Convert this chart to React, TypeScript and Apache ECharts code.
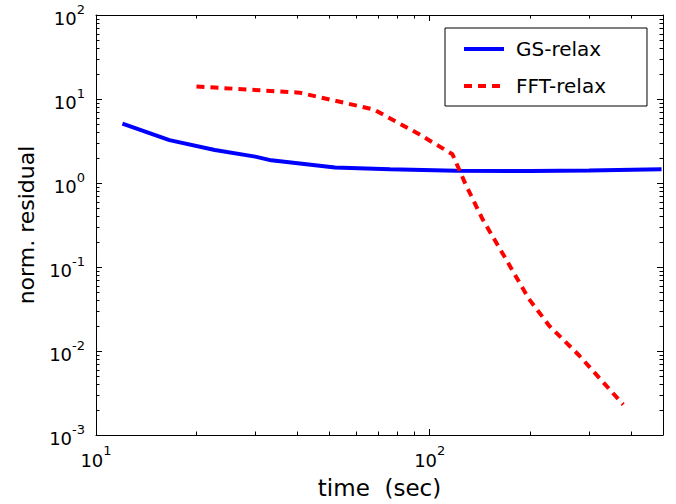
import React, { useEffect, useRef } from 'react';
import * as echarts from 'echarts';

const gsTime = [12, 16.6, 22.7, 30, 33.5, 52, 76, 120, 200, 300, 495];
const gsResidual = [5.1, 3.24, 2.47, 2.06, 1.86, 1.53, 1.46, 1.4, 1.39, 1.41, 1.46];
const fftTime = [20, 40.7, 68, 93, 117, 128, 144, 169, 198, 228, 280, 380];
const fftResidual = [14.1, 11.9, 7.5, 3.8, 2.2, 0.97, 0.37, 0.125, 0.042, 0.02, 0.0089, 0.0023];
const xMinorTicks = [20, 30, 40, 50, 60, 70, 80, 90, 200, 300, 400];
const yMinorTicks = [
  0.002, 0.003, 0.004, 0.005, 0.006, 0.007, 0.008, 0.009,
  0.02, 0.03, 0.04, 0.05, 0.06, 0.07, 0.08, 0.09,
  0.2, 0.3, 0.4, 0.5, 0.6, 0.7, 0.8, 0.9,
  2, 3, 4, 5, 6, 7, 8, 9,
  20, 30, 40, 50, 60, 70, 80, 90,
];

const FONT = 'DejaVu Sans';

const powLabel = (v: number) => {
  const e = Math.log10(v);
  const r = Math.round(e);
  if (Math.abs(e - r) > 1e-6) return '';
  return `{b|10}{s|${r}}`;
};

const richLabel = {
  b: { fontSize: 18, fontFamily: FONT, color: '#000', padding: [7, 0, 0, 0], verticalAlign: 'bottom' },
  s: { fontSize: 13, fontFamily: FONT, color: '#000', verticalAlign: 'top' },
};

export default function App() {
  const ref = useRef<HTMLDivElement>(null);
  useEffect(() => {
    document.body.style.margin = '0';
    const chart = echarts.init(ref.current!, null, { renderer: 'svg' });
    const axisLine = { show: true, lineStyle: { color: '#000', width: 1 } };
    const tick = { show: true, inside: true, length: 6, lineStyle: { color: '#000' } };
    const tickLine = (x1: number, y1: number, x2: number, y2: number) => ({
      type: 'line',
      shape: { x1, y1, x2, y2 },
      style: { stroke: '#000', lineWidth: 1 },
    });
    chart.setOption({
      animation: false,
      textStyle: { fontFamily: FONT },
      grid: { left: 96, top: 15, right: 13, bottom: 67 },
      legend: {
        data: ['GS-relax', 'FFT-relax'],
        orient: 'vertical',
        left: 445,
        top: 28,
        backgroundColor: '#fff',
        borderColor: '#000',
        borderWidth: 1,
        padding: [11, 41, 10, 17],
        itemWidth: 40,
        itemHeight: 14,
        itemGap: 17,
        itemStyle: { opacity: 0 },
        lineStyle: { width: 4 },
        textStyle: { fontSize: 20, fontFamily: FONT, color: '#000', padding: [0, 0, 0, 7] },
      },
      xAxis: [
        {
          type: 'log',
          logBase: 10,
          min: 10,
          max: 500,
          name: 'time\u00a0\u00a0(sec)',
          nameLocation: 'middle',
          nameGap: 41,
          nameTextStyle: { fontSize: 23, fontFamily: FONT, color: '#000' },
          axisLine,
          axisTick: tick,
          splitLine: { show: false },
          axisLabel: { formatter: powLabel, rich: richLabel, margin: 9, showMaxLabel: false },
        },
        {
          type: 'log',
          logBase: 10,
          min: 10,
          max: 500,
          position: 'top',
          axisLine,
          axisTick: tick,
          splitLine: { show: false },
          axisLabel: { show: false },
        },
      ],
      yAxis: [
        {
          type: 'log',
          logBase: 10,
          min: 0.001,
          max: 100,
          name: 'norm. residual',
          nameLocation: 'middle',
          nameGap: 59,
          nameTextStyle: { fontSize: 22, fontFamily: FONT, color: '#000' },
          axisLine,
          axisTick: tick,
          splitLine: { show: false },
          axisLabel: { formatter: powLabel, rich: richLabel, margin: 11 },
        },
        {
          type: 'log',
          logBase: 10,
          min: 0.001,
          max: 100,
          position: 'right',
          axisLine,
          axisTick: tick,
          splitLine: { show: false },
          axisLabel: { show: false },
        },
      ],
      series: [
        {
          name: 'GS-relax',
          type: 'line',
          xAxisIndex: 0,
          yAxisIndex: 0,
          data: gsTime.map((t, i) => [t, gsResidual[i]]),
          symbol: 'none',
          color: '#0000ff',
          lineStyle: { color: '#0000ff', width: 4 },
        },
        {
          name: 'FFT-relax',
          type: 'line',
          xAxisIndex: 0,
          yAxisIndex: 0,
          data: fftTime.map((t, i) => [t, fftResidual[i]]),
          symbol: 'none',
          color: '#ff0000',
          lineStyle: { color: '#ff0000', width: 4, type: [8, 6] },
        },
        {
          name: 'xMinor',
          type: 'custom',
          xAxisIndex: 0,
          yAxisIndex: 0,
          silent: true,
          data: xMinorTicks.map((v) => [v, 1]),
          renderItem: (params: any, api: any) => {
            const cs = params.coordSys;
            const p = api.coord([api.value(0), 1]);
            const x = Math.round(p[0]) + 0.5;
            const b = cs.y + cs.height;
            return {
              type: 'group',
              children: [tickLine(x, b, x, b - 3.5), tickLine(x, cs.y, x, cs.y + 3.5)],
            };
          },
        },
        {
          name: 'yMinor',
          type: 'custom',
          xAxisIndex: 0,
          yAxisIndex: 0,
          silent: true,
          data: yMinorTicks.map((v) => [100, v]),
          renderItem: (params: any, api: any) => {
            const cs = params.coordSys;
            const p = api.coord([100, api.value(1)]);
            const y = Math.round(p[1]) + 0.5;
            const r = cs.x + cs.width;
            return {
              type: 'group',
              children: [tickLine(cs.x, y, cs.x + 3.5, y), tickLine(r, y, r - 3.5, y)],
            };
          },
        },
      ],
    });
    return () => chart.dispose();
  }, []);
  return <div ref={ref} style={{ width: 676, height: 504, position: 'absolute', left: 0, top: 0 }} />;
}
